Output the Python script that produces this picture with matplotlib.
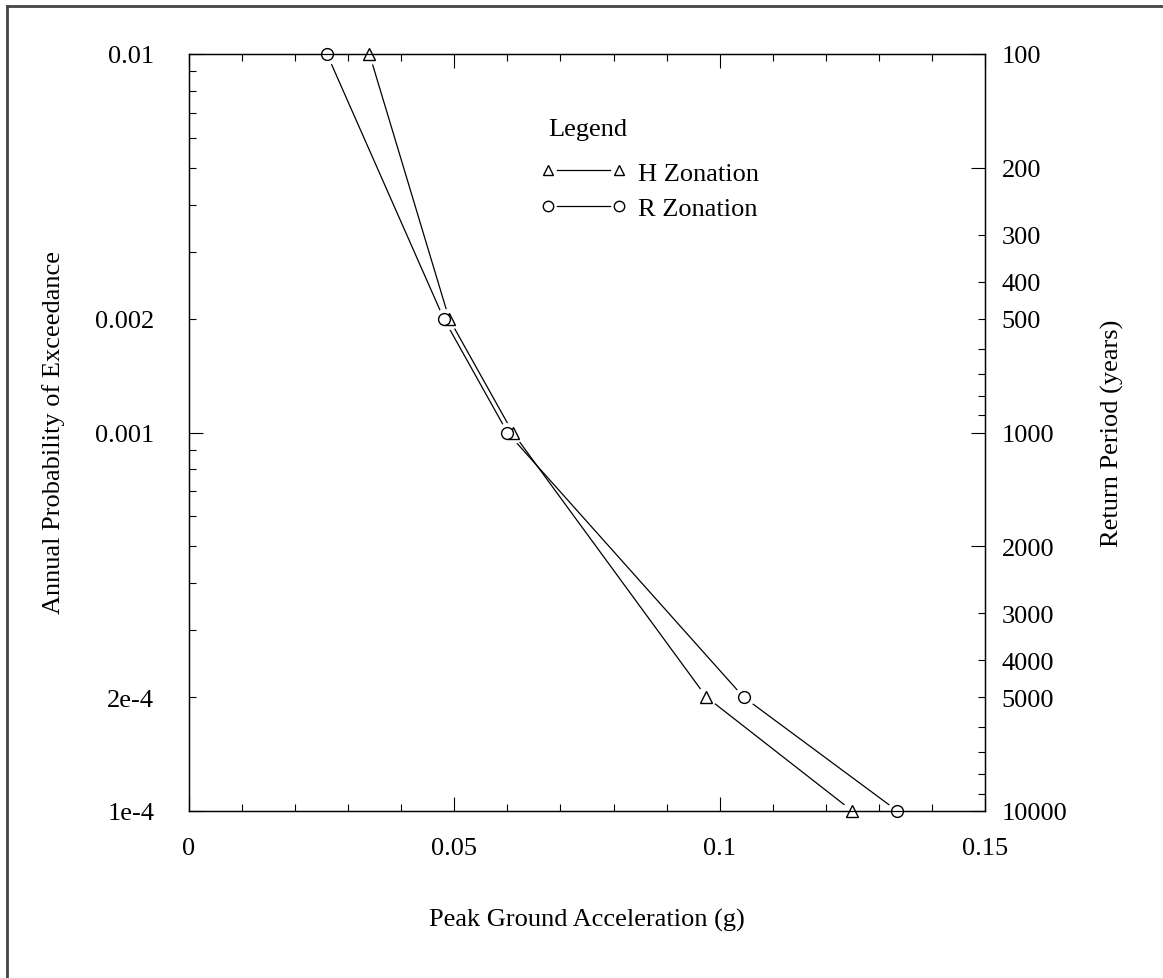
import numpy as np
import matplotlib
matplotlib.use("Agg")
import matplotlib.pyplot as plt
from matplotlib.lines import Line2D
from matplotlib.legend_handler import HandlerTuple, HandlerLine2D
from matplotlib.ticker import FixedLocator, FixedFormatter

plt.rcParams['font.family'] = ['Liberation Serif', 'DejaVu Serif']
FS = 19

# annual probability of exceedance for each point
prob = [0.01, 0.002, 0.001, 2e-4, 1e-4]
# peak ground acceleration (g)
pga_h = [0.034, 0.049, 0.061, 0.0975, 0.125]
pga_r = [0.026, 0.048, 0.060, 0.1045, 0.1335]

x_ticks = [0, 0.05, 0.1, 0.15]
x_labels = ['0', '0.05', '0.1', '0.15']
p_major = [1e-4, 1e-3, 1e-2]
p_major_labels = ['1e-4', '0.001', '0.01']
p_minor = [k * 1e-4 for k in range(2, 10)] + [k * 1e-3 for k in range(2, 10)]
p_labelled_minor = {2e-4: '2e-4', 2e-3: '0.002'}
rp_major = [100, 200, 1000, 2000, 10000]
rp_minor = [300, 400, 500, 600, 700, 800, 900, 3000, 4000, 5000, 6000, 7000, 8000, 9000]
rp_labelled_minor = [300, 400, 500, 3000, 4000, 5000]

W, H = 1163, 979
fig = plt.figure(figsize=(W / 100, H / 100), dpi=100)
ax = fig.add_axes([189 / W, 1 - 812 / H, (985 - 189) / W, (812 - 55) / H])

lw = 0.9
for x in (pga_h, pga_r):
    ax.plot(x, prob, color='black', lw=lw, zorder=2)
# white discs so the lines stop short of the symbols
for x in (pga_h, pga_r):
    ax.plot(x, prob, ls='none', marker='o', ms=15, mfc='white', mec='none', zorder=2.2)
for x, m in ((pga_h, '^'), (pga_r, 'o')):
    ax.plot(x, prob, ls='none', marker=m, ms=8.5, mfc='white', mec='black',
            mew=1.0, zorder=3, clip_on=False)

ax.set_yscale('log')
ax.set_xlim(0, 0.15)
ax.set_ylim(1e-4, 1e-2)

ax.xaxis.set_major_locator(FixedLocator(x_ticks))
ax.xaxis.set_major_formatter(FixedFormatter(x_labels))
ax.xaxis.set_minor_locator(FixedLocator(np.arange(0, 0.151, 0.01)))
ax.yaxis.set_major_locator(FixedLocator(p_major))
ax.yaxis.set_major_formatter(FixedFormatter(p_major_labels))
ax.yaxis.set_minor_locator(FixedLocator(p_minor))
ax.yaxis.set_minor_formatter(FixedFormatter(
    [p_labelled_minor.get(round(p, 6), '') for p in p_minor]))

ax.tick_params(axis='x', which='both', direction='in', top=True, labelsize=FS, pad=19, width=0.8)
ax.tick_params(axis='x', which='major', length=10)
ax.tick_params(axis='x', which='minor', length=5)
ax.tick_params(axis='y', which='both', direction='in', right=False, labelsize=FS, pad=25, width=0.8)
ax.tick_params(axis='y', which='major', length=10)
ax.tick_params(axis='y', which='minor', length=5)

ax2 = ax.twinx()
ax2.set_yscale('log')
ax2.set_ylim(10000, 100)
ax2.yaxis.set_major_locator(FixedLocator(rp_major))
ax2.yaxis.set_major_formatter(FixedFormatter([str(v) for v in rp_major]))
ax2.yaxis.set_minor_locator(FixedLocator(rp_minor))
ax2.yaxis.set_minor_formatter(FixedFormatter(
    [str(v) if v in rp_labelled_minor else '' for v in rp_minor]))
ax2.tick_params(axis='y', which='both', direction='in', labelsize=FS, pad=12, width=0.8)
ax2.tick_params(axis='y', which='major', length=10)
ax2.tick_params(axis='y', which='minor', length=5)

for a in (ax, ax2):
    for s in a.spines.values():
        s.set_linewidth(0.9)

fig.text(54 / W, 1 - 433 / H, 'Annual Probability of Exceedance', rotation=90,
         ha='center', va='center', fontsize=FS)
fig.text(1112 / W, 1 - 433 / H, 'Return Period (years)', rotation=90,
         ha='center', va='center', fontsize=FS)
fig.text(587 / W, 1 - 920 / H, 'Peak Ground Acceleration (g)',
         ha='center', va='center', fontsize=FS)

# legend: line broken at the symbols like the plotted curves
handles = []
for m in ('^', 'o'):
    line = Line2D([], [], color='black', lw=lw)
    cover = Line2D([], [], ls='none', marker='o', ms=12, mfc='white', mec='none')
    mark = Line2D([], [], ls='none', marker=m, ms=7.5, mfc='white', mec='black', mew=1.0)
    handles.append((line, cover, mark))
leg = ax.legend(handles, ['H Zonation', 'R Zonation'], numpoints=2,
                handler_map={tuple: HandlerTuple(ndivide=1, pad=0),
                             Line2D: HandlerLine2D(marker_pad=0)},
                title='Legend', title_fontsize=FS, fontsize=FS, frameon=False,
                loc='upper left', bbox_to_anchor=(548 / W, 1 - 119 / H),
                bbox_transform=fig.transFigure, borderpad=0, borderaxespad=0,
                handlelength=2.69, handletextpad=0.72, labelspacing=0.465,
                alignment='left')
leg._legend_box.sep = 15.3

# scanned page border (top and left)
fig.add_artist(Line2D([7 / W, 1], [1 - 7 / H, 1 - 7 / H], transform=fig.transFigure,
                      color='#444444', lw=2))
fig.add_artist(Line2D([7 / W, 7 / W], [0, 1 - 7 / H], transform=fig.transFigure,
                      color='#444444', lw=2))

fig.savefig('out.png', dpi=100)
